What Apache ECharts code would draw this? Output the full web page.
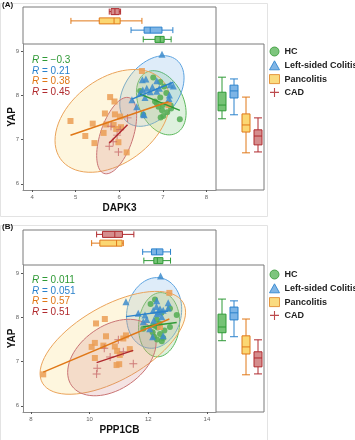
<!DOCTYPE html>
<html>
<head>
<meta charset="utf-8">
<script src="https://cdn.jsdelivr.net/npm/echarts@6/dist/echarts.min.js"></script>
<style>
html, body { margin: 0; padding: 0; background: #fff; }
#chart { width: 355px; height: 440px; }
</style>
</head>
<body>
<div id="chart"></div>
<script>
var groups = ['HC', 'Left-sided Colitis', 'Pancolitis', 'CAD']

// YAP is shared by both panels, x gene differs
var hcYAP = [7.46, 7.50, 7.53, 7.56, 7.62, 7.66, 7.70, 7.74, 7.77, 7.78, 7.80, 7.82, 7.86, 7.95, 8.05, 8.10, 8.20, 8.30, 8.40]
var hcDAPK3 = [7.39, 6.95, 7.01, 6.55, 7.10, 6.98, 7.19, 6.90, 7.18, 7.00, 7.13, 6.86, 6.82, 6.94, 7.08, 6.48, 7.03, 6.94, 6.78]
var hcPPP1CB = [12.46, 12.30, 12.51, 12.20, 12.40, 12.15, 12.55, 11.83, 12.32, 12.74, 12.25, 12.17, 12.38, 12.29, 12.97, 12.45, 12.74, 12.08, 12.23]

var lcYAP = [7.56, 7.58, 7.74, 7.90, 7.93, 7.95, 8.01, 8.05, 8.08, 8.09, 8.12, 8.16, 8.16, 8.19, 8.21, 8.24, 8.33, 8.35, 8.37, 8.93]
var lcDAPK3 = [6.57, 6.55, 6.40, 6.29, 7.14, 6.59, 7.15, 6.48, 6.71, 6.86, 6.54, 6.63, 6.92, 6.76, 7.24, 7.17, 6.86, 6.53, 6.61, 6.98]
var lcPPP1CB = [12.15, 12.51, 12.05, 11.83, 12.19, 11.95, 12.46, 11.89, 12.30, 11.66, 12.34, 12.17, 12.51, 12.40, 12.68, 12.28, 12.68, 11.24, 12.29, 12.42]

var pcYAP = [6.71, 6.92, 6.94, 7.08, 7.15, 7.24, 7.28, 7.33, 7.34, 7.36, 7.42, 7.52, 7.57, 7.59, 7.78, 7.86, 7.96, 8.55]
var pcDAPK3 = [6.17, 5.43, 5.98, 5.22, 5.64, 5.93, 6.04, 5.87, 5.70, 5.39, 4.88, 6.02, 5.90, 5.67, 7.13, 5.89, 5.79, 6.52]
var pcPPP1CB = [8.42, 10.92, 11.01, 10.18, 11.03, 10.94, 11.37, 10.07, 10.86, 10.47, 10.18, 11.15, 10.56, 11.24, 12.40, 10.22, 10.52, 12.72]

var cadYAP = [6.72, 6.85, 6.95, 7.10, 7.22, 7.30, 7.49]
var cadDAPK3 = [5.98, 5.77, 5.86, 5.95, 6.02, 5.81, 6.19]
var cadPPP1CB = [10.24, 10.26, 11.49, 10.70, 11.15, 10.50, 10.98]

// marginal boxplots [min, q1, median, q3, max], order HC, LC, PC, CAD
var boxDAPK3 = [[6.55, 6.82, 6.94, 7.03, 7.19], [6.27, 6.57, 6.71, 6.98, 7.23], [4.89, 5.54, 5.88, 6.02, 6.52], [5.77, 5.81, 5.90, 6.00, 6.03]]
var boxPPP1CB = [[11.85, 12.19, 12.31, 12.50, 12.76], [11.81, 12.11, 12.28, 12.50, 12.76], [10.07, 10.35, 10.92, 11.11, 11.15], [10.24, 10.44, 10.86, 11.12, 11.51]]
var boxYAP = [[7.47, 7.65, 7.78, 8.07, 8.41], [7.56, 7.94, 8.10, 8.23, 8.37], [6.70, 7.17, 7.33, 7.58, 7.96], [6.72, 6.88, 7.08, 7.22, 7.49]]

var rA = ['\u22120.3', '0.21', '0.38', '0.45']
var rB = ['0.011', '0.051', '0.57', '0.51']

var ticksDAPK3 = [4, 5, 6, 7, 8]
var ticksPPP1CB = [8, 10, 12, 14]
var ticksYAP = [6, 7, 8, 9]

var lineColors = ['#2f9a36', '#2b82cc', '#e07818', '#b02a2e']
var pointColors = ['#52ad52', '#3d8ccc', '#eb9d55', '#c86a6a']
var ellStroke = ['#5cb85c', '#5ba2df', '#eaa35a', '#c97474']
var ellFill = ['rgba(92,184,92,0.2)', 'rgba(91,162,223,0.2)', 'rgba(249,213,106,0.22)', 'rgba(201,116,116,0.2)']
var boxFill = ['rgba(60,170,60,0.7)', 'rgba(70,150,220,0.7)', 'rgba(250,205,80,0.8)', 'rgba(190,80,80,0.65)']
var plusPath = 'path://M4.4,0H5.6V4.4H10V5.6H5.6V10H4.4V5.6H0V4.4H4.4Z'
var symbols = ['circle', 'triangle', 'rect', plusPath]
var font = 'Liberation Sans, Arial, sans-serif'

function mean(a) {
  var s = 0
  a.forEach(function (v) { s += v })
  return s / a.length
}

function zip(xs, ys) {
  return xs.map(function (x, i) { return [x, ys[i]] })
}

// least squares line over the x range of the group
function regLine(xs, ys) {
  var mx = mean(xs), my = mean(ys), sxy = 0, sxx = 0
  xs.forEach(function (x, i) {
    sxy += (x - mx) * (ys[i] - my)
    sxx += (x - mx) * (x - mx)
  })
  var b = sxy / sxx, a = my - b * mx
  var x0 = Math.min.apply(null, xs), x1 = Math.max.apply(null, xs)
  return [[x0, a + b * x0], [x1, a + b * x1]]
}

// 95% normal data ellipse, like stat_ellipse(type = 'norm')
function ellipse(xs, ys) {
  var n = xs.length, mx = mean(xs), my = mean(ys)
  var sxx = 0, syy = 0, sxy = 0
  xs.forEach(function (x, i) {
    sxx += (x - mx) * (x - mx)
    syy += (ys[i] - my) * (ys[i] - my)
    sxy += (x - mx) * (ys[i] - my)
  })
  sxx /= n - 1; syy /= n - 1; sxy /= n - 1
  var a = Math.sqrt(sxx), b = sxy / a, c = Math.sqrt(syy - b * b)
  var d = n - 1
  var f = d / 2 * (Math.pow(0.05, -2 / d) - 1)
  var r = Math.sqrt(2 * f)
  var pts = []
  for (var i = 0; i < 72; i++) {
    var t = 2 * Math.PI * i / 72
    pts.push([mx + r * Math.cos(t) * a, my + r * (Math.cos(t) * b + Math.sin(t) * c)])
  }
  return pts
}

var panels = [
  { xs: [hcDAPK3, lcDAPK3, pcDAPK3, cadDAPK3], box: boxDAPK3, r: rA },
  { xs: [hcPPP1CB, lcPPP1CB, pcPPP1CB, cadPPP1CB], box: boxPPP1CB, r: rB }
]
var ysAll = [hcYAP, lcYAP, pcYAP, cadYAP]

var series = []
panels.forEach(function (p, k) {
  var main = 3 * k
  groups.forEach(function (g, i) {
    var ell = ellipse(p.xs[i], ysAll[i])
    series.push({
      type: 'custom',
      xAxisIndex: main,
      yAxisIndex: main,
      clip: true,
      silent: true,
      z: 1,
      data: [[mean(p.xs[i]), mean(ysAll[i])]],
      renderItem: function (params, api) {
        return {
          type: 'polygon',
          shape: { points: ell.map(function (q) { return api.coord(q) }) },
          style: { fill: ellFill[i], stroke: ellStroke[i], lineWidth: 1 }
        }
      }
    })
  })
  groups.forEach(function (g, i) {
    series.push({
      name: g,
      type: 'scatter',
      xAxisIndex: main,
      yAxisIndex: main,
      symbol: symbols[i],
      symbolSize: i === 3 ? 8 : (i === 1 ? 7 : 6),
      itemStyle: { color: pointColors[i], opacity: 0.85 },
      z: 2,
      data: zip(p.xs[i], ysAll[i])
    })
  })
  groups.forEach(function (g, i) {
    series.push({
      type: 'line',
      xAxisIndex: main,
      yAxisIndex: main,
      showSymbol: false,
      silent: true,
      z: 3,
      lineStyle: { color: lineColors[i], width: 1.5 },
      data: regLine(p.xs[i], ysAll[i])
    })
  })
  // top marginal (x gene) and right marginal (YAP)
  series.push({
    type: 'boxplot',
    xAxisIndex: main + 1,
    yAxisIndex: main + 1,
    boxWidth: [6, 6],
    data: p.box.map(function (v, i) {
      return { value: v, itemStyle: { color: boxFill[i], borderColor: lineColors[i], borderWidth: 1 } }
    })
  })
  series.push({
    type: 'boxplot',
    xAxisIndex: main + 2,
    yAxisIndex: main + 2,
    boxWidth: [8, 8],
    data: boxYAP.map(function (v, i) {
      return { value: v, itemStyle: { color: boxFill[i], borderColor: lineColors[i], borderWidth: 1 } }
    })
  })
})

var frame = { show: true, borderColor: '#7a7a7a', borderWidth: 1, backgroundColor: 'transparent' }
var grids = [
  { left: 23, top: 44, width: 193, height: 146 },
  Object.assign({ left: 23, top: 7, width: 193, height: 37 }, frame),
  Object.assign({ left: 216, top: 44, width: 48, height: 146 }, frame),
  { left: 23, top: 265, width: 193, height: 147 },
  Object.assign({ left: 23, top: 230, width: 193, height: 35 }, frame),
  Object.assign({ left: 216, top: 265, width: 48, height: 147 }, frame)
].map(function (g) { g.outerBoundsMode = 'none'; g.containLabel = false; return g })

function valueAxis(grid, min, max, ticks, name, isY) {
  return {
    type: 'value',
    gridIndex: grid,
    min: min,
    max: max,
    name: name,
    nameLocation: 'middle',
    nameGap: isY ? 6 : 13,
    nameMoveOverlap: false,
    nameTextStyle: { fontFamily: font, fontWeight: 'bold', fontSize: 10, color: '#111' },
    axisLine: { show: true, lineStyle: { color: '#8c8c8c', width: 1 } },
    axisTick: { show: true, length: 2, customValues: ticks, lineStyle: { color: '#555' } },
    axisLabel: { customValues: ticks, fontSize: 6, color: '#666', margin: 4, fontFamily: font },
    splitLine: { show: false }
  }
}
function hiddenValue(grid, min, max) {
  return { type: 'value', gridIndex: grid, min: min, max: max, show: false, splitLine: { show: false } }
}
function hiddenCat(grid) {
  return { type: 'category', gridIndex: grid, data: groups, show: false }
}

var xAxes = [
  valueAxis(0, 3.79, 8.22, ticksDAPK3, 'DAPK3', false),
  hiddenValue(1, 3.79, 8.22),
  hiddenCat(2),
  valueAxis(3, 7.73, 14.31, ticksPPP1CB, 'PPP1CB', false),
  hiddenValue(4, 7.73, 14.31),
  hiddenCat(5)
]
var yAxes = [
  valueAxis(0, 5.86, 9.16, ticksYAP, 'YAP', true),
  hiddenCat(1),
  hiddenValue(2, 5.86, 9.16),
  valueAxis(3, 5.86, 9.18, ticksYAP, 'YAP', true),
  hiddenCat(4),
  hiddenValue(5, 5.86, 9.18)
]

var legendIcons = [
  { name: 'HC', icon: 'circle', itemStyle: { color: '#66bb66', borderColor: '#3a9a3a', borderWidth: 1 } },
  { name: 'Left-sided Colitis', icon: 'triangle', itemStyle: { color: '#6aa8e0', borderColor: '#2b82cc', borderWidth: 1 } },
  { name: 'Pancolitis', icon: 'rect', itemStyle: { color: '#f9d56a', borderColor: '#e0882a', borderWidth: 1 } },
  { name: 'CAD', icon: plusPath, itemStyle: { color: '#b02a2e', borderWidth: 0 } }
]
function legendAt(top) {
  return {
    left: 269,
    top: top,
    padding: 0,
    orient: 'vertical',
    itemWidth: 10,
    itemHeight: 9,
    itemGap: 3.8,
    selectedMode: false,
    textStyle: { fontFamily: font, fontWeight: 'bold', fontSize: 9, color: '#222', lineHeight: 9 },
    data: legendIcons
  }
}

var graphics = [
  { type: 'rect', shape: { x: 0.5, y: 3.5, width: 267, height: 213 }, style: { fill: 'none', stroke: '#e3e3e3', lineWidth: 1 }, silent: true },
  { type: 'rect', shape: { x: 0.5, y: 225.5, width: 267, height: 220 }, style: { fill: 'none', stroke: '#e3e3e3', lineWidth: 1 }, silent: true },
  { type: 'text', left: 2, top: 1, style: { text: '(A)', font: 'bold 8px ' + font, fill: '#111' } },
  { type: 'text', left: 2, top: 223, style: { text: '(B)', font: 'bold 8px ' + font, fill: '#111' } }
]
panels.forEach(function (p, k) {
  var y0 = k === 0 ? 55 : 275
  p.r.forEach(function (v, i) {
    graphics.push({
      type: 'text',
      x: 32,
      y: y0 + i * 10.8,
      style: {
        text: '{i|R} = ' + v,
        fontFamily: font,
        fontSize: 10,
        fill: lineColors[i],
        rich: { i: { fontStyle: 'italic', fontFamily: font, fontSize: 10, fill: lineColors[i] } }
      }
    })
  })
})

var chart = echarts.init(document.getElementById('chart'))
chart.setOption({
  animation: false,
  textStyle: { fontFamily: font },
  grid: grids,
  xAxis: xAxes,
  yAxis: yAxes,
  legend: [legendAt(46.5), legendAt(269.5)],
  graphic: graphics,
  series: series
})
</script>
</body>
</html>
